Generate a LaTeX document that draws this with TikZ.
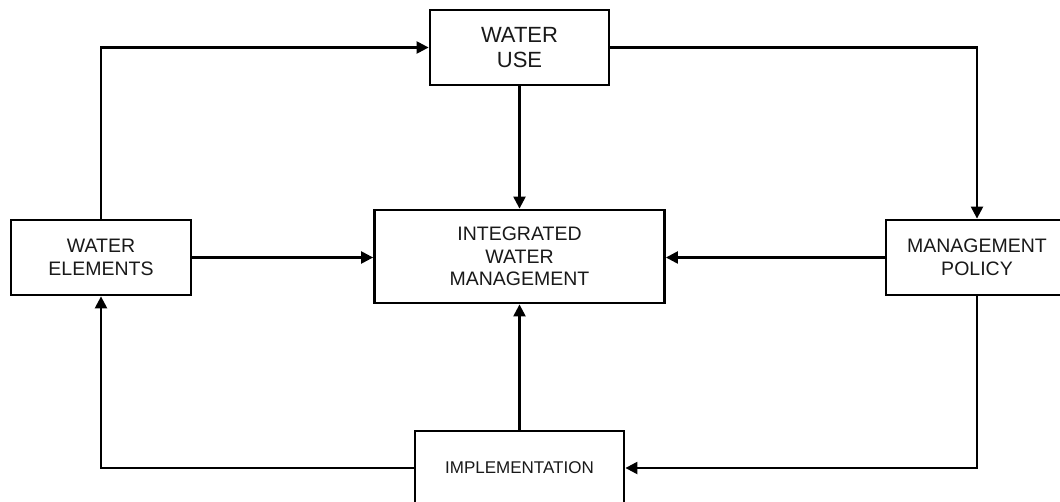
\documentclass[tikz,border=0pt]{standalone}
\usepackage{fontspec}
\setmainfont{Liberation Sans}
\usetikzlibrary{arrows.meta}
\begin{document}
\begin{tikzpicture}[x=1pt,y=-1pt,
  box/.style={draw=black,line width=2.8pt,rectangle,inner sep=0pt,align=center,
    fill=white,text=black!90,font=\fontsize{19.5}{22.7}\selectfont},
  link/.style={line width=2.3pt,-{Triangle[length=12pt,width=12pt]}}]
\useasboundingbox (0,0) rectangle (1060,502);
\clip (0,0) rectangle (1060,502);
\fill[white] (0,0) rectangle (1060,502);

% boxes
\node[box,minimum width=179pt,minimum height=75pt,
  font=\fontsize{22}{25}\selectfont] (wuse) at (519.5,47.5) {WATER\\USE};
\node[box,minimum width=290pt,minimum height=93pt] (iwm) at (519.5,256.5)
  {INTEGRATED\\WATER\\MANAGEMENT};
\node[box,minimum width=180pt,minimum height=75pt] (welem) at (101,257.5)
  {WATER\\ELEMENTS};
\node[box,minimum width=182pt,minimum height=75pt,
  font=\fontsize{19.5}{23.3}\selectfont] (mpol) at (977,257.5)
  {MANAGEMENT\\POLICY};
\node[box,minimum width=209pt,minimum height=74pt,
  font=\fontsize{17}{20}\selectfont] (impl) at (519.5,468) {IMPLEMENTATION};

% connectors
\draw[link] (welem.north) |- (wuse.west);
\draw[link] (wuse.east) -| (mpol.north);
\draw[link] (wuse.south) -- (iwm.north);
\draw[link] (welem.east) -- (welem.east -| iwm.west);
\draw[link] (mpol.west) -- (mpol.west -| iwm.east);
\draw[link] (impl.north) -- (iwm.south);
\draw[link] (mpol.south) |- (impl.east);
\draw[link] (impl.west) -| (welem.south);
\end{tikzpicture}
\end{document}
